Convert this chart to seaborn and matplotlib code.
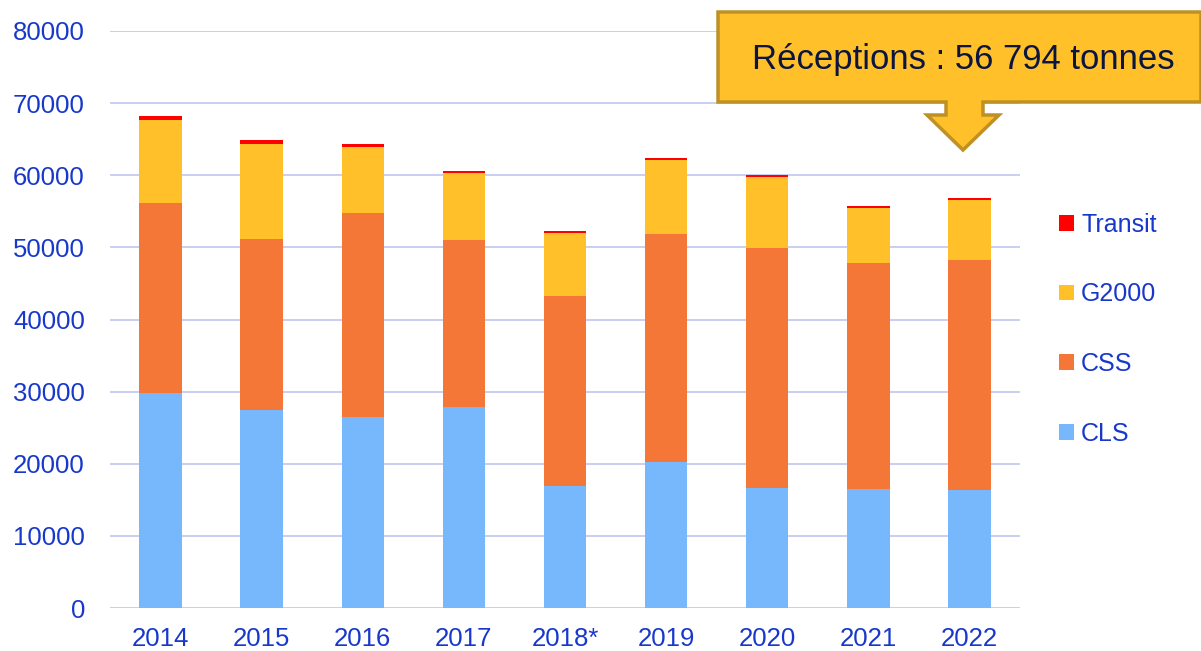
import pandas as pd
import matplotlib.pyplot as plt
import seaborn as sns
from matplotlib.patches import Polygon, Patch

years = ["2014", "2015", "2016", "2017", "2018*", "2019", "2020", "2021", "2022"]
cls = [29800, 27500, 26500, 27900, 16900, 20250, 16700, 16500, 16400]
css = [26300, 23650, 28250, 23100, 26300, 31600, 33200, 31400, 31900]
g2000 = [11550, 13150, 9200, 9250, 8750, 10200, 9850, 7550, 8300]
transit = [600, 600, 400, 370, 360, 280, 320, 270, 194]

series = ["CLS", "CSS", "G2000", "Transit"]
colors = {"CLS": "#77B7FC", "CSS": "#F57737", "G2000": "#FFC02A", "Transit": "#FF0000"}
text_blue = "#1838CC"

df = pd.DataFrame({"year": years, "CLS": cls, "CSS": css, "G2000": g2000, "Transit": transit})

sns.set_style("white")
plt.rcParams["font.family"] = ["Liberation Sans", "DejaVu Sans"]

fig = plt.figure(figsize=(12.01, 6.51), dpi=100)
ax = fig.add_axes([110 / 1201, 43 / 651, 910 / 1201, 577 / 651])

# stacked bars: draw cumulative totals from top series down
cum = df[series].cumsum(axis=1)
for name in reversed(series):
    sns.barplot(x=df["year"], y=cum[name], color=colors[name], width=0.42,
                saturation=1, linewidth=0, ax=ax, zorder=2)

ax.set_ylim(0, 80000)
ax.set_yticks(range(0, 80001, 10000))
ax.yaxis.grid(True, color="#C5CAF2", linewidth=1.3, zorder=0)
ax.set_axisbelow(True)
for s in ax.spines.values():
    s.set_visible(False)
ax.set_xlabel("")
ax.set_ylabel("")
ax.tick_params(axis="y", length=0, pad=18, labelsize=18.5, labelcolor=text_blue)
ax.tick_params(axis="x", length=0, pad=14, labelsize=18.5, labelcolor=text_blue)

handles = [Patch(facecolor=colors[n], edgecolor="none") for n in reversed(series)]
fig.legend(handles, list(reversed(series)), loc="upper left",
           bbox_to_anchor=(1036 / 1201, 1 - 190 / 651), frameon=False,
           fontsize=18, labelcolor=text_blue, handlelength=0.6, handleheight=0.6,
           handletextpad=0.3, labelspacing=1.83)

# callout box with down arrow (pixel coordinates, origin top-left)
W, H = 1201, 651
pts = [(718, 12), (1201, 12), (1201, 102), (983, 102), (983, 115), (999, 115),
       (963, 150), (927, 115), (946, 115), (946, 102), (718, 102)]
poly = Polygon([(x / W, 1 - y / H) for x, y in pts], closed=True,
               transform=fig.transFigure, facecolor="#FFC02A",
               edgecolor="#BF9024", linewidth=2.5, zorder=5, clip_on=False)
fig.patches.append(poly)
fig.text(963 / W, 1 - 59 / H, "Réceptions : 56 794 tonnes", ha="center", va="center",
         fontsize=25, color="#0B1540", zorder=6)

fig.savefig("out.png", dpi=100)
